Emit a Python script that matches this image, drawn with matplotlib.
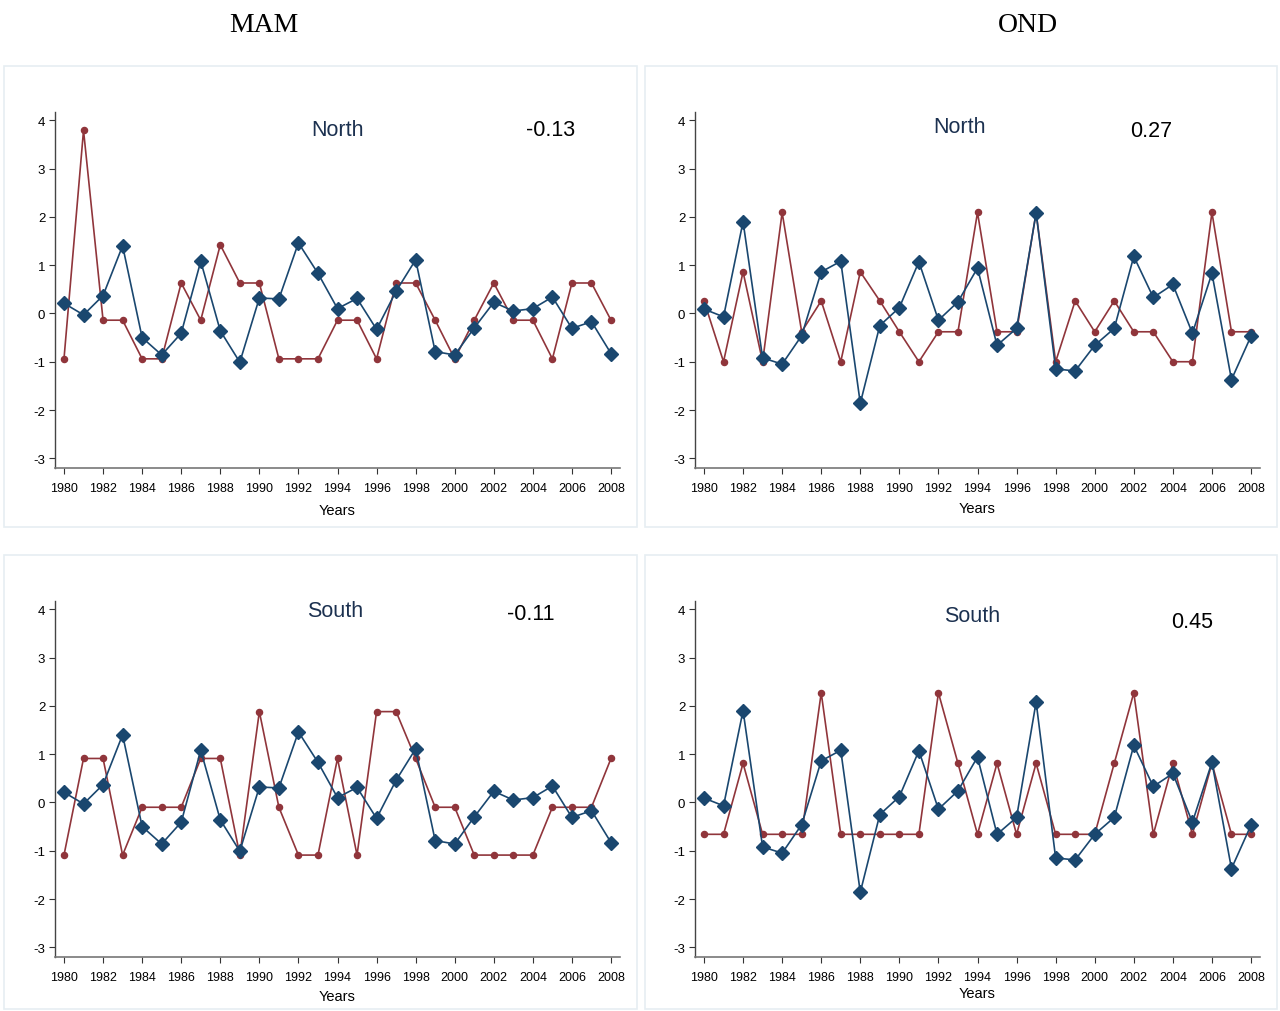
import numpy as np
import matplotlib
matplotlib.use("Agg")
import matplotlib.pyplot as plt
from matplotlib.patches import Rectangle

plt.rcParams['font.family'] = ['Liberation Sans', 'DejaVu Sans']
plt.rcParams['axes.unicode_minus'] = False

years = list(range(1980, 2009))

# index series (blue) per season
mam_index = [0.21, -0.03, 0.37, 1.40, -0.50, -0.86, -0.41, 1.08, -0.36, -1.01,
             0.32, 0.30, 1.46, 0.83, 0.10, 0.31, -0.33, 0.46, 1.11, -0.79,
             -0.86, -0.30, 0.23, 0.05, 0.10, 0.34, -0.31, -0.17, -0.83]
ond_index = [0.09, -0.07, 1.90, -0.92, -1.05, -0.46, 0.86, 1.08, -1.86, -0.25,
             0.12, 1.07, -0.14, 0.24, 0.94, -0.66, -0.31, 2.08, -1.15, -1.19,
             -0.66, -0.31, 1.18, 0.33, 0.60, -0.41, 0.83, -1.37, -0.47]

# regional series (red)
mam_north = [-0.94, 3.79, -0.14, -0.14, -0.94, -0.94, 0.63, -0.14, 1.42, 0.63,
             0.63, -0.94, -0.94, -0.94, -0.14, -0.14, -0.94, 0.63, 0.63, -0.14,
             -0.94, -0.14, 0.63, -0.14, -0.14, -0.94, 0.63, 0.63, -0.14]
mam_south = [-1.09, 0.91, 0.91, -1.09, -0.10, -0.10, -0.10, 0.91, 0.91, -1.09,
             1.88, -0.10, -1.09, -1.09, 0.91, -1.09, 1.88, 1.88, 0.91, -0.10,
             -0.10, -1.09, -1.09, -1.09, -1.09, -0.10, -0.10, -0.10, 0.91]
ond_north = [0.26, -1.00, 0.86, -1.00, 2.09, -0.38, 0.26, -1.00, 0.86, 0.26,
             -0.38, -1.00, -0.38, -0.38, 2.09, -0.38, -0.38, 2.09, -1.00, 0.26,
             -0.38, 0.26, -0.38, -0.38, -1.00, -1.00, 2.09, -0.38, -0.38]
ond_south = [-0.66, -0.66, 0.81, -0.66, -0.66, -0.66, 2.27, -0.66, -0.66, -0.66,
             -0.66, -0.66, 2.27, 0.81, -0.66, 0.81, -0.66, 0.81, -0.66, -0.66,
             -0.66, 0.81, 2.27, -0.66, 0.81, -0.66, 0.81, -0.66, -0.66]

regions = ["North", "North", "South", "South"]
correlations = ["-0.13", "0.27", "-0.11", "0.45"]

NAVY = "#1a476f"
MAROON = "#90353b"

fig = plt.figure(figsize=(12.8, 10.12), dpi=100)

fig.text(264 / 1280, 1 - 25 / 1012, "MAM", ha='center', va='center',
         fontsize=20, family=['Liberation Serif', 'DejaVu Serif'])
fig.text(1028 / 1280, 1 - 25 / 1012, "OND", ha='center', va='center',
         fontsize=20, family=['Liberation Serif', 'DejaVu Serif'])

# panel frames (pixel boxes: left, top, right, bottom)
frames = [(4, 67, 637, 528), (645, 67, 1277, 528),
          (4, 556, 637, 1010), (645, 556, 1277, 1010)]
for l, t, r, b in frames:
    fig.patches.append(Rectangle((l / 1280, 1 - b / 1012), (r - l) / 1280, (b - t) / 1012,
                                 transform=fig.transFigure, fill=False,
                                 edgecolor="#e6eef2", linewidth=1.2))

# axes boxes in pixels
boxes = [(55, 113, 620, 469), (695, 113, 1260, 469),
         (55, 602, 620, 958), (695, 602, 1260, 958)]
series = [(mam_index, mam_north), (ond_index, ond_north),
          (mam_index, mam_south), (ond_index, ond_south)]
label_pos = [((1994.0, 3.80), (2004.9, 3.80)),
             ((1993.1, 3.88), (2002.9, 3.78)),
             ((1993.9, 3.98), (2003.9, 3.92)),
             ((1993.7, 3.88), (2005.0, 3.74))]
xlabel_y = [511, 509, 997, 994]

for i, (l, t, r, b) in enumerate(boxes):
    ax = fig.add_axes([l / 1280, 1 - b / 1012, (r - l) / 1280, (b - t) / 1012])
    idx, reg = series[i]
    ax.plot(years, reg, color=MAROON, marker='o', markersize=4.4, linewidth=1.2)
    ax.plot(years, idx, color=NAVY, marker='D', markersize=6.8, linewidth=1.2)
    ax.set_xlim(1979.54, 2008.46)
    ax.set_ylim(-3.2, 4.17)
    ax.set_xticks(range(1980, 2009, 2))
    ax.set_yticks(range(-3, 5))
    ax.tick_params(axis='both', direction='out', length=4, width=0.8,
                   labelsize=9, color="#333333", pad=3)
    ax.tick_params(axis='x', pad=6)
    ax.tick_params(axis='y', labelsize=9.5)
    for s in ['top', 'right']:
        ax.spines[s].set_visible(False)
    ax.spines['left'].set_color("#444444")
    ax.spines['bottom'].set_color("#777777")
    ax.spines['left'].set_linewidth(1.0)
    ax.spines['bottom'].set_linewidth(1.2)
    (nx, ny), (cx, cy) = label_pos[i]
    ax.text(nx, ny, regions[i], ha='center', va='center', fontsize=15.5, color="#1c3150")
    ax.text(cx, cy, correlations[i], ha='center', va='center', fontsize=15.5, color="black")
    fig.text((l + r) / 2 / 1280, 1 - xlabel_y[i] / 1012, "Years",
             ha='center', va='center', fontsize=10.5)

fig.savefig("out.png", dpi=100)
